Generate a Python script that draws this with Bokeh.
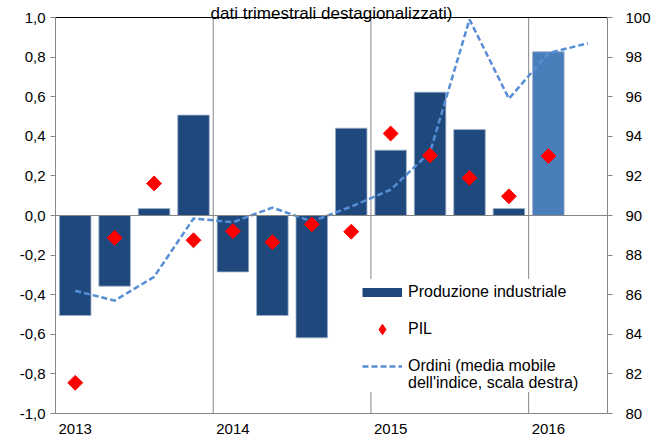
import numpy as np
from bokeh.plotting import figure
from bokeh.models import (Range1d, LinearAxis, FixedTicker, Span, Legend, LegendItem,
                          CustomJSTickFormatter, Label, ColumnDataSource)
from bokeh.embed import file_html
from bokeh.resources import INLINE

# ---------------- data ----------------
years = ["2013", "2014", "2015", "2016"]
quarters_per_year = 4
# quarterly % change, industrial production (2013Q1 .. 2016Q1)
produzione = [-0.505, -0.357, 0.035, 0.507, -0.285, -0.505, -0.618, 0.441,
              0.330, 0.623, 0.434, 0.035, 0.827]
# quarterly % change, GDP (2013Q1 .. 2016Q1)
pil = [-0.845, -0.113, 0.162, -0.125, -0.079, -0.135, -0.045, -0.082,
       0.414, 0.303, 0.190, 0.097, 0.300]
# orders, moving average of index, right scale (2013Q1 .. 2016Q2)
ordini = [86.2, 85.7, 86.9, 89.85, 89.66, 90.4, 89.7, 90.45,
          91.3, 93.2, 99.9, 95.9, 98.2, 98.7]
left_ticks = [-1.0, -0.8, -0.6, -0.4, -0.2, 0.0, 0.2, 0.4, 0.6, 0.8, 1.0]
right_ticks = [80, 82, 84, 86, 88, 90, 92, 94, 96, 98, 100]
title_text = "dati trimestrali destagionalizzati)"
legend_labels = ["Produzione industriale", "PIL", "Ordini (media mobile",
                 "dell'indice, scala destra)"]

FONT = "Liberation Sans"
DARK = "#1F497D"
LIGHT = "#4A7EBB"
LINEC = "#558ED5"
GRAY = "#868686"

W, H = 660, 441
BORDER_L, BORDER_R, BORDER_B = 55, 53, 28
frame_h = H - BORDER_B
px_per_unit = 396 / (left_ticks[-1] - left_ticks[0])        # plot body height for the value scale
y_top = left_ticks[0] + frame_h / px_per_unit               # room above for the title
r_px_per_unit = 396 / (right_ticks[-1] - right_ticks[0])
r_top = right_ticks[0] + frame_h / r_px_per_unit

n_slots = len(ordini)
x_bar = np.arange(len(produzione)) + 0.5
x_line = np.arange(len(ordini)) + 0.5
year_bounds = [i * quarters_per_year for i in range(1, len(years))]

p = figure(width=W, height=H, x_range=Range1d(0, n_slots),
           y_range=Range1d(left_ticks[0], y_top),
           output_backend="svg", toolbar_location=None,
           min_border_left=BORDER_L, min_border_right=BORDER_R,
           min_border_top=0, min_border_bottom=BORDER_B)
p.outline_line_color = None
p.background_fill_color = "white"
p.border_fill_color = "white"
p.xgrid.grid_line_color = None
p.ygrid.grid_line_color = None

# left axis
ya = p.yaxis[0]
ya.ticker = FixedTicker(ticks=left_ticks)
ya.bounds = (left_ticks[0], left_ticks[-1])
ya.formatter = CustomJSTickFormatter(code="return tick.toFixed(1).replace('.', ',');")
# right axis
p.extra_y_ranges = {"ordini": Range1d(right_ticks[0], r_top)}
ra = LinearAxis(y_range_name="ordini", ticker=FixedTicker(ticks=right_ticks),
                bounds=(right_ticks[0], right_ticks[-1]))
p.add_layout(ra, "right")
for ax in (ya, ra):
    ax.axis_line_color = GRAY
    ax.major_tick_line_color = GRAY
    ax.major_tick_in = 0
    ax.major_tick_out = 5
    ax.minor_tick_line_color = None
    ax.major_label_text_font = FONT
    ax.major_label_text_font_size = "15px"
    ax.major_label_text_color = "#000000"
ya.major_label_standoff = 5
ra.major_label_standoff = 13

# bottom axis: year labels centred on Q1
xa = p.xaxis[0]
xa.ticker = FixedTicker(ticks=[i * quarters_per_year + 0.5 for i in range(len(years))])
xa.formatter = CustomJSTickFormatter(args=dict(years=years, q=quarters_per_year),
                                     code="return years[Math.floor(tick / q)];")
xa.axis_line_color = GRAY
xa.major_tick_line_color = None
xa.minor_tick_line_color = None
xa.major_tick_out = 0
xa.major_tick_in = 0
xa.major_label_standoff = 10
xa.major_label_text_font = FONT
xa.major_label_text_font_size = "15px"
xa.major_label_text_color = "#000000"

# year separators
p.segment(x0=year_bounds, y0=left_ticks[0], x1=year_bounds, y1=left_ticks[-1],
          line_color=GRAY, line_width=1)

# bars
colors = [DARK] * (len(produzione) - 1) + [LIGHT]
src = ColumnDataSource(dict(x=x_bar, top=produzione, color=colors))
p.vbar(x="x", top="top", bottom=0, width=0.8, fill_color="color",
       line_color="#9db0c9", line_width=0.8, source=src)

p.add_layout(Span(location=0, dimension="width", line_color=GRAY, line_width=1))
p.add_layout(Span(location=left_ticks[-1], dimension="width", line_color="#000000",
                  line_width=1.2))

# orders line (right scale)
ln = p.line(x_line, ordini, y_range_name="ordini", line_color=LINEC, line_width=2.5,
            line_dash="6 3")
# GDP diamonds
sc = p.scatter(x_bar, pil, marker="square", angle=np.pi / 4, size=10.5,
               fill_color="#FF0000", line_color="#FF0000")

# legend-only renderers (no visible data)
leg_bar = p.line(x=[np.nan], y=[np.nan], line_color=DARK, line_width=9)
leg_dia = p.scatter(x=[np.nan], y=[np.nan], marker="diamond",
                    fill_color="#FF0000", line_color="#FF0000")
leg_none = p.line(x=[np.nan], y=[np.nan], line_alpha=0)

common = dict(margin=0, glyph_width=40, label_standoff=6,
              label_text_font=FONT, label_text_font_size="16px",
              label_text_color="#000000",
              background_fill_color="white", background_fill_alpha=1.0,
              border_line_color=None)
legend_a = Legend(items=[LegendItem(label=legend_labels[0], renderers=[leg_bar]),
                         LegendItem(label=legend_labels[1], renderers=[leg_dia]),
                         LegendItem(label=legend_labels[2], renderers=[ln])],
                  location=(307, 34), padding=3, spacing=11,
                  glyph_height=26, label_height=20, **common)
legend_b = Legend(items=[LegendItem(label=legend_labels[3], renderers=[leg_none])],
                  location=(307, 21), padding=0, spacing=0,
                  glyph_height=18, label_height=18, **common)
p.add_layout(legend_a, "center")
p.add_layout(legend_b, "center")

p.add_layout(Label(x=n_slots / 2, y=left_ticks[-1], y_offset=4.5, text=title_text,
                   text_align="center", text_baseline="alphabetic", text_font=FONT,
                   text_font_size="17px", text_color="#000000"))

open("out.html", "w").write(file_html(p, INLINE))
